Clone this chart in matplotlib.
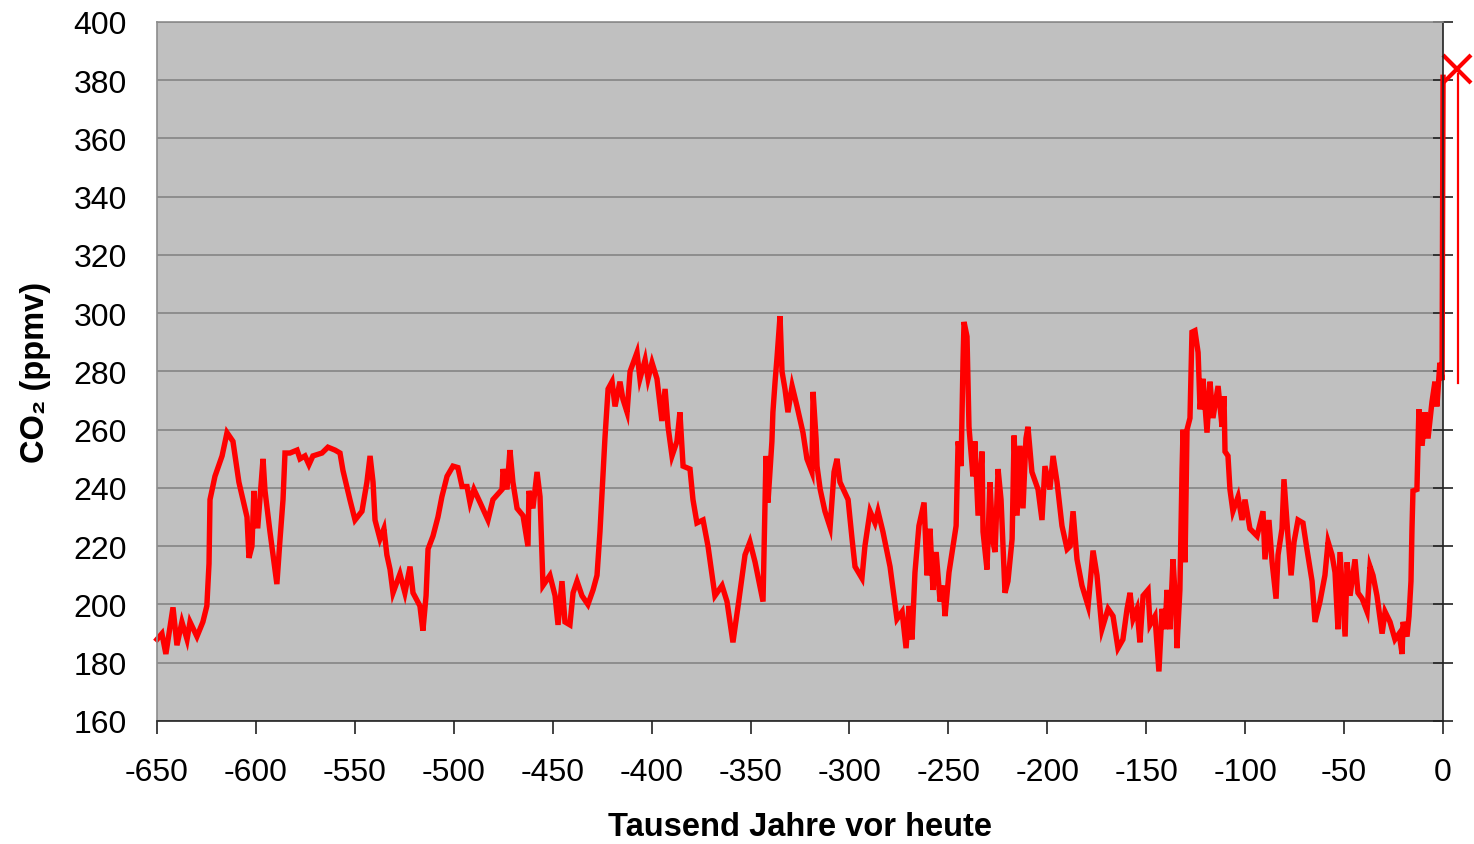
import matplotlib.pyplot as plt
import numpy as np

plt.rcParams['font.family'] = ['Liberation Sans', 'DejaVu Sans']
plt.rcParams['axes.unicode_minus'] = False

# --- data: CO2 from ice cores, thousand years before present ---
kyr = [
    -650.0, -647.5, -645.5, -641.9, -639.9, -637.4, -634.8, -633.3, -629.8, -626.8,
    -624.8, -623.7, -623.2, -620.7, -617.1, -614.6, -611.6, -608.6, -604.5, -603.5,
    -602.0, -601.0, -600.0, -599.0, -596.4, -595.4, -592.9, -589.4, -587.8, -586.3,
    -585.3, -582.8, -579.2, -577.7, -575.2, -573.2, -571.2, -566.6, -563.6, -560.0,
    -557.5, -556.0, -552.5, -549.9, -546.4, -543.9, -542.3, -540.8, -539.8, -537.3,
    -535.3, -533.8, -532.2, -530.7, -527.2, -524.7, -522.1, -520.6, -517.1, -515.6,
    -514.0, -513.0, -510.5, -508.0, -506.0, -503.4, -500.4, -497.9, -495.8, -493.3,
    -491.8, -489.8, -486.7, -482.7, -480.2, -475.6, -475.1, -473.1, -471.6, -470.1,
    -468.0, -465.0, -462.5, -462.0, -460.0, -457.9, -456.4, -455.4, -454.9, -451.4,
    -448.8, -447.3, -445.3, -443.8, -441.3, -439.7, -437.7, -435.2, -432.2, -429.6,
    -427.6, -426.1, -424.6, -423.6, -422.0, -420.0, -418.5, -416.0, -414.5, -412.4,
    -410.9, -407.4, -405.9, -403.3, -401.8, -399.8, -397.3, -394.8, -393.2, -391.7,
    -389.7, -387.2, -385.7, -384.1, -380.6, -379.1, -377.1, -374.0, -371.5, -368.0,
    -364.4, -361.9, -358.9, -356.3, -352.8, -350.3, -347.7, -343.7, -342.2, -341.2,
    -339.2, -338.7, -337.6, -336.6, -335.1, -334.1, -332.6, -331.1, -329.0, -326.5,
    -323.5, -321.5, -319.0, -318.4, -316.9, -316.4, -314.8, -312.4, -309.8, -307.8,
    -306.3, -304.8, -300.7, -298.7, -297.2, -293.7, -292.2, -289.6, -287.1, -285.6,
    -283.1, -279.5, -276.0, -273.4, -271.4, -269.9, -268.4, -266.9, -264.9, -262.3,
    -260.8, -259.3, -257.8, -256.2, -254.2, -252.7, -251.7, -249.7, -247.7, -246.1,
    -245.1, -243.6, -242.6, -242.1, -240.6, -239.6, -237.6, -236.6, -235.0, -233.0,
    -232.5, -230.5, -229.0, -227.5, -226.4, -224.9, -223.4, -221.4, -219.9, -217.8,
    -216.8, -215.3, -213.8, -212.3, -210.8, -209.8, -207.8, -204.7, -202.7, -201.2,
    -198.7, -197.1, -195.1, -192.6, -190.0, -188.5, -187.0, -185.0, -182.5, -179.4,
    -176.9, -174.9, -172.4, -169.3, -166.8, -164.3, -161.8, -159.7, -158.2, -156.7,
    -154.7, -153.2, -151.6, -149.1, -148.1, -145.6, -143.6, -142.0, -140.5, -139.5,
    -138.0, -136.5, -135.0, -134.5, -133.0, -131.9, -131.4, -130.4, -129.4, -127.9,
    -126.9, -125.4, -123.8, -122.8, -121.3, -119.3, -117.8, -116.3, -113.7, -111.7,
    -110.7, -110.2, -108.7, -107.7, -106.2, -103.6, -101.6, -100.1, -97.6, -94.0,
    -91.0, -90.0, -88.0, -86.4, -84.4, -83.4, -81.4, -80.4, -79.4, -78.4,
    -76.8, -75.3, -73.3, -70.8, -68.8, -66.2, -64.7, -62.2, -59.7, -58.1,
    -56.1, -54.6, -53.1, -52.1, -49.5, -48.5, -47.0, -44.5, -43.0, -40.9,
    -38.4, -36.9, -35.4, -33.4, -30.8, -29.3, -26.8, -24.3, -22.2, -20.7,
    -20.2, -18.2, -17.2, -16.2, -15.7, -15.2, -13.2, -12.2, -10.6, -9.1,
    -7.6, -5.6, -4.1, -3.1, -1.6, -0.5, 0.0,
]
co2 = [
    188, 190, 183, 199, 186, 194, 188, 194, 189, 194,
    199.5, 214, 236, 244, 251, 259, 256, 242, 230, 216,
    220, 239, 227, 227, 250, 239, 225, 207, 222.5, 236,
    252, 252, 253, 250, 251, 248, 251, 252, 254, 253,
    252, 246, 236, 229, 232, 242, 251, 242, 229, 222.5,
    226, 217, 212, 204, 210.5, 204, 213, 204, 199.5, 191,
    203, 219, 223.5, 230, 237, 244, 247.5, 247, 240.5, 240.5,
    235, 239.5, 235, 229, 236, 239.5, 246.5, 239.5, 253, 242,
    233, 230.5, 220, 239, 233, 245.5, 237, 217, 206.5, 210,
    203, 193, 208, 194, 193, 204, 208, 203, 200, 205,
    210, 225, 244, 257, 274, 276.5, 268, 276.5, 270.5, 266,
    280, 286.5, 277.5, 284, 277.5, 283, 277.5, 263, 274, 261,
    251, 256, 266, 247.5, 246.5, 236, 228, 229, 220, 203,
    206.5, 201, 187, 199.5, 217, 221.5, 214.5, 201, 251, 235,
    256, 266, 276.5, 285, 299, 280, 274, 266, 275, 268,
    259, 250, 245.5, 273, 257, 247.5, 239.5, 232, 226.5, 245.5,
    250, 242, 236, 222.5, 213, 209, 220, 232, 228, 232,
    225, 213, 195, 197.5, 185, 199.5, 188, 211, 227, 235,
    210, 226, 205, 218, 201, 206.5, 196, 211, 220, 227,
    256, 247.5, 284, 297, 292, 261, 244, 256, 230.5, 252.5,
    225, 212, 242, 221.5, 218, 246.5, 236, 204, 208, 222.5,
    258, 230.5, 254.5, 233, 257, 261, 245.5, 239.5, 229, 247.5,
    239.5, 251, 242, 227, 219, 220, 232, 215.5, 206.5, 199.5,
    218.5, 210, 191.5, 198.5, 196, 185, 188, 198.5, 204, 195,
    198.5, 187, 203, 205, 193, 196, 177, 198.5, 191.5, 205,
    191.5, 215.5, 198.5, 185, 205, 246.5, 260, 214.5, 260, 264,
    293.5, 294, 286.5, 267, 277.5, 259, 276.5, 264, 275, 261,
    271.5, 252.5, 251, 239.5, 232, 237, 229, 236, 226, 223.5,
    232, 215.5, 229, 214.5, 202, 217, 226, 243, 233, 223.5,
    210, 221.5, 229, 228, 219, 208, 194, 201, 210, 221.5,
    217, 211, 191.5, 218, 189, 214.5, 203, 215.5, 204, 202,
    197.5, 213, 210, 203, 190, 197.5, 194, 188, 190, 183,
    194, 189, 196, 208, 226, 239, 239.5, 267, 254.5, 266,
    257, 269.5, 276.5, 268, 283, 277, 381,
]

# present-day value and pre-industrial to present range
today_kyr = 7.0
today_co2 = 384
range_kyr = 7.5
range_co2 = [276, 382]

fig = plt.figure(figsize=(14.74, 8.45), dpi=100)
ax = fig.add_axes([0.1065, 0.1456, 0.8725, 0.8272])
ax.set_facecolor('#C0C0C0')

ax.plot(kyr, co2, color='#FF0000', lw=3.9, solid_joinstyle='miter', clip_on=False)
ax.plot([range_kyr, range_kyr], range_co2, color='#FF0000', lw=1.6, clip_on=False)
ax.plot(today_kyr, today_co2, marker='x', color='#FF0000', markersize=20,
        markeredgewidth=3, clip_on=False)

ax.set_xlim(-650, 0)
ax.set_ylim(160, 400)
ax.set_xticks(np.arange(-650, 1, 50))
ax.set_yticks(np.arange(160, 401, 20))
ax.grid(axis='y', color='#7F7F7F', lw=1.1)
ax.set_axisbelow(True)

for side in ['left', 'top']:
    ax.spines[side].set_color('#8C8C8C')
ax.spines['right'].set_color('#222222')
ax.spines['bottom'].set_color('#222222')
for s in ax.spines.values():
    s.set_linewidth(1.2)

ax.tick_params(axis='y', left=False, right=True, labelleft=True, direction='inout',
               length=15, width=1.2, color='#222222', labelsize=23, pad=14)
ax.tick_params(axis='x', direction='out', length=9, width=1.2, color='#222222',
               labelsize=23, pad=17)

ax.set_xlabel('Tausend Jahre vor heute', fontsize=23.5, fontweight='bold', labelpad=17)
ax.set_ylabel('CO₂ (ppmv)', fontsize=23.5, fontweight='bold', labelpad=16)

fig.savefig('out.png', dpi=100)
